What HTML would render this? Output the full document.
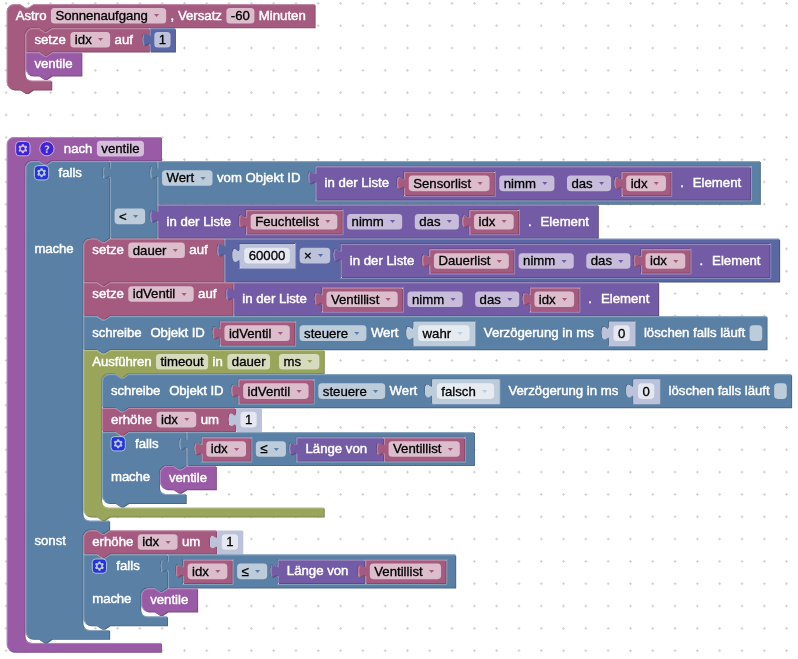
<!DOCTYPE html>
<html><head><meta charset="utf-8"><title>Blockly</title>
<style>
html,body{margin:0;padding:0;background:#fff;}
body{width:798px;height:659px;overflow:hidden;}
svg{display:block;}
.bt{font-family:"Liberation Sans",Arial,sans-serif;font-size:14.81px;fill:#fff;stroke:#fff;stroke-width:0.5px;}
.et{font-family:"Liberation Sans",Arial,sans-serif;font-size:14.81px;fill:#000;stroke:#000;stroke-width:0.35px;}
.ar{font-family:"DejaVu Sans",sans-serif;}
</style>
</head><body>
<svg id="root" width="798" height="659" viewBox="0 0 798 659"><defs><pattern id="grid" patternUnits="userSpaceOnUse" width="22.3" height="22.32" x="17.23" y="14.55"><line stroke="#ccc" stroke-width="1" x1="9.81" y1="11.14" x2="12.48" y2="11.14"></line><line stroke="#ccc" stroke-width="1" x1="11.14" y1="9.81" x2="11.14" y2="12.48"></line></pattern><filter id="soft" x="0" y="0" width="798" height="659" filterUnits="userSpaceOnUse" color-interpolation-filters="sRGB"><feGaussianBlur stdDeviation="0.35"></feGaussianBlur></filter></defs><rect x="0" y="0" width="798" height="659" fill="#fff"></rect><rect x="0" y="0" width="798" height="659" fill="url(#grid)"></rect><g filter="url(#soft)"><g transform="translate(0,0) scale(0.8915)"><g transform="translate(7.6,4.77)"><path fill="#844966" transform="translate(1,1)" d="m 0,8 A 8,8 0 0,1 8,0 H 15 l 6,4 3,0 6,-4 H 50 H 345.3975 v 26 H 50 l -6,4 -3,0 -6,-4 h -7 a 8,8 0 0,0 -8,8 v 43.7 a 8,8 0 0,0 8,8 H 50 v 10 H 29.5 l -6,4 -3,0 -6,-4 H 8 a 8,8 0 0,1 -8,-8 z "></path><path fill="#a55b80" d="m 0,8 A 8,8 0 0,1 8,0 H 15 l 6,4 3,0 6,-4 H 50 H 345.3975 v 26 H 50 l -6,4 -3,0 -6,-4 h -7 a 8,8 0 0,0 -8,8 v 43.7 a 8,8 0 0,0 8,8 H 50 v 10 H 29.5 l -6,4 -3,0 -6,-4 H 8 a 8,8 0 0,1 -8,-8 z "></path><path fill="none" stroke="#c08ca6" stroke-width="1" stroke-linecap="round" d="m 0.5,7.5 A 7.5,7.5 0 0,1 8,0.5 H 15 l 6,4 3,0 6,-4 H 49.5 M 49.5,0.5 H 344.8975 M 49.5,26.5 M 21.989592359914347,83.71040764008566 a 8.5,8.5 0 0,0 6.0104076400856545,2.4895923599143455 H 49.5 M 2.6966991411008934,93.00330085889911 A 7.5,7.5 0 0,1 0.5,87.7 V 8 "></path><g><g transform="translate(10,5)"><text class="bt" y="12.3">Astro</text></g><g transform="translate(54.55,5)"><rect rx="4" ry="4" x="-5" y="-0.85" height="17.5" width="129.23" fill="#fff" fill-opacity="0.6"></rect><text class="et" y="12.85" textLength="103.62" lengthAdjust="spacing">Sonnenaufgang</text><text class="ar" font-size="10" transform="translate(113.48,7.9) scale(1.15,0.67)" x="-2.47" y="2.65" fill="#a55b80">▾</text></g><g transform="translate(183.77,5)"><text class="bt" y="12.3">, Versatz</text></g><g transform="translate(251.35,5)"><rect rx="4" ry="4" x="-5" y="-0.85" height="17.5" width="31.39" fill="#fff" fill-opacity="0.6"></rect><text class="et" y="12.85">-60</text></g><g transform="translate(282.74,5)"><text class="bt" y="12.3">Minuten</text></g></g><g transform="translate(21,27)"><path fill="#844966" transform="translate(1,1)" d="m 0,8 A 8,8 0 0,1 8,0 H 15 l 6,4 3,0 6,-4 H 138.485 v 5 c 0,10 -8,-8 -8,7.5 s 8,-2.5 8,7.5 v 6 H 29.5 l -6,4 -3,0 -6,-4 H 0 z "></path><path fill="#a55b80" d="m 0,8 A 8,8 0 0,1 8,0 H 15 l 6,4 3,0 6,-4 H 138.485 v 5 c 0,10 -8,-8 -8,7.5 s 8,-2.5 8,7.5 v 6 H 29.5 l -6,4 -3,0 -6,-4 H 0 z "></path><path fill="none" stroke="#c08ca6" stroke-width="1" stroke-linecap="round" d="m 0.5,7.5 A 7.5,7.5 0 0,1 8,0.5 H 15 l 6,4 3,0 6,-4 H 137.985 M 137.985,0.5 M 133.485,19.3 l 3.68,-2.1 M 0.5,25.5 V 8 "></path><g><g transform="translate(10,5)"><text class="bt" y="12.3">setze</text></g><g transform="translate(55.38,5)"><rect rx="4" ry="4" x="-5" y="-0.85" height="17.5" width="44.53" fill="#fff" fill-opacity="0.6"></rect><text class="et" y="12.85">idx</text><text class="ar" font-size="10" transform="translate(28.78,7.9) scale(1.15,0.67)" x="-2.47" y="2.65" fill="#a55b80">▾</text></g><g transform="translate(99.91,5)"><text class="bt" y="12.3">auf</text></g></g><g transform="translate(139.49,0)"><path fill="#495284" transform="translate(1,1)" d="m 0,0 H 28.234375 v 26 H 0 V 20 c 0,-10 -8,8 -8,-7.5 s 8,2.5 8,-7.5 z "></path><path fill="#5b67a5" d="m 0,0 H 28.234375 v 26 H 0 V 20 c 0,-10 -8,8 -8,-7.5 s 8,2.5 8,-7.5 z "></path><path fill="none" stroke="#8c95c0" stroke-width="1" stroke-linecap="round" d="m 0.5,0.5 H 27.734375 M 27.734375,0.5 M 0.5,25.5 V 18.5 m -7.36,-0.5 q -1.52,-5.5 0,-11 m 7.36,1 V 0.5 H 1 "></path><g><g transform="translate(10,5)"><rect rx="4" ry="4" x="-5" y="-0.85" height="17.5" width="18.23" fill="#fff" fill-opacity="0.6"></rect><text class="et" y="12.85">1</text></g></g></g><g transform="translate(0,27)"><path fill="#7a4984" transform="translate(1,1)" d="m 0,0 H 15 l 6,4 3,0 6,-4 H 62.78125 v 26 H 29.5 l -6,4 -3,0 -6,-4 H 8 a 8,8 0 0,1 -8,-8 z "></path><path fill="#995ba5" d="m 0,0 H 15 l 6,4 3,0 6,-4 H 62.78125 v 26 H 29.5 l -6,4 -3,0 -6,-4 H 8 a 8,8 0 0,1 -8,-8 z "></path><path fill="none" stroke="#b88cc0" stroke-width="1" stroke-linecap="round" d="m 0.5,0.5 H 15 l 6,4 3,0 6,-4 H 62.28125 M 62.28125,0.5 M 2.6966991411008934,23.303300858899107 A 7.5,7.5 0 0,1 0.5,18 V 0.5 "></path><g><g transform="translate(10,5)"><text class="bt" y="12.3">ventile</text></g></g></g></g></g><g transform="translate(7.6,153.8)"><path fill="#7a4984" transform="translate(1,1)" d="m 0,8 A 8,8 0 0,1 8,0 H 172.985 v 26 H 50 l -6,4 -3,0 -6,-4 h -7 a 8,8 0 0,0 -8,8 v 525.4000000000001 a 8,8 0 0,0 8,8 H 172.985 v 10 H 8 a 8,8 0 0,1 -8,-8 z "></path><path fill="#995ba5" d="m 0,8 A 8,8 0 0,1 8,0 H 172.985 v 26 H 50 l -6,4 -3,0 -6,-4 h -7 a 8,8 0 0,0 -8,8 v 525.4000000000001 a 8,8 0 0,0 8,8 H 172.985 v 10 H 8 a 8,8 0 0,1 -8,-8 z "></path><path fill="none" stroke="#b88cc0" stroke-width="1" stroke-linecap="round" d="m 0.5,7.5 A 7.5,7.5 0 0,1 8,0.5 H 172.485 M 172.485,0.5 M 172.485,26.5 M 21.989592359914347,565.4104076400857 a 8.5,8.5 0 0,0 6.0104076400856545,2.4895923599143455 H 172.485 M 2.6966991411008934,574.7033008588992 A 7.5,7.5 0 0,1 0.5,569.4000000000001 V 8 "></path><g><g transform="translate(64,5)"><text class="bt" y="12.3">nach</text></g><g transform="translate(106.09,5)"><rect rx="4" ry="4" x="-5" y="-0.85" height="17.5" width="52.78" fill="#fff" fill-opacity="0.6"></rect><text class="et" y="12.85">ventile</text></g><g transform="translate(158.88,5)"></g></g><g transform="translate(10,5)" opacity="0.6"><rect rx="4" ry="4" height="16" width="16" fill="#00f" stroke="#fff" stroke-width="1"></rect><path fill="#fff" d="m4.203,7.296 0,1.368 -0.92,0.677 -0.11,0.41 0.9,1.559 0.41,0.11 1.043,-0.457 1.187,0.683 0.127,1.134 0.3,0.3 1.8,0 0.3,-0.299 0.127,-1.138 1.185,-0.682 1.046,0.458 0.409,-0.11 0.9,-1.559 -0.11,-0.41 -0.92,-0.677 0,-1.366 0.92,-0.677 0.11,-0.41 -0.9,-1.559 -0.409,-0.109 -1.046,0.458 -1.185,-0.682 -0.127,-1.138 -0.3,-0.299 -1.8,0 -0.3,0.3 -0.126,1.135 -1.187,0.682 -1.043,-0.457 -0.41,0.11 -0.899,1.559 0.108,0.409z"></path><circle r="2.7" cx="8" cy="8" fill="#00f" stroke="#fff" stroke-width="1"></circle></g><g transform="translate(37,5)" opacity="0.6"><circle r="8" cx="8" cy="8" fill="#00f" stroke="#fff" stroke-width="1"></circle><path fill="#fff" d="m6.8,10h2c0.003,-0.617 0.271,-0.962 0.633,-1.266 2.875,-2.405 0.607,-5.534 -3.765,-3.874v1.7c3.12,-1.657 3.698,0.118 2.336,1.25 -1.201,0.998 -1.201,1.528 -1.204,2.19z"></path><rect fill="#fff" x="6.8" y="10.78" height="2" width="2"></rect></g><g transform="translate(21,27)"><path fill="#496684" transform="translate(1,1)" d="m 0,8 A 8,8 0 0,1 8,0 H 15 l 6,4 3,0 6,-4 H 93.921875 v 5 c 0,10 -8,-8 -8,7.5 s 8,-2.5 8,7.5 v 66 H 93.921875 l -6,4 -3,0 -6,-4 h -7 a 8,8 0 0,0 -8,8 v 301.2 a 8,8 0 0,0 8,8 H 93.921875 v 10 H 93.921875 l -6,4 -3,0 -6,-4 h -7 a 8,8 0 0,0 -8,8 v 96.75 a 8,8 0 0,0 8,8 H 93.921875 v 10 H 29.5 l -6,4 -3,0 -6,-4 H 8 a 8,8 0 0,1 -8,-8 z "></path><path fill="#5b80a5" d="m 0,8 A 8,8 0 0,1 8,0 H 15 l 6,4 3,0 6,-4 H 93.921875 v 5 c 0,10 -8,-8 -8,7.5 s 8,-2.5 8,7.5 v 66 H 93.921875 l -6,4 -3,0 -6,-4 h -7 a 8,8 0 0,0 -8,8 v 301.2 a 8,8 0 0,0 8,8 H 93.921875 v 10 H 93.921875 l -6,4 -3,0 -6,-4 h -7 a 8,8 0 0,0 -8,8 v 96.75 a 8,8 0 0,0 8,8 H 93.921875 v 10 H 29.5 l -6,4 -3,0 -6,-4 H 8 a 8,8 0 0,1 -8,-8 z "></path><path fill="none" stroke="#8ca6c0" stroke-width="1" stroke-linecap="round" d="m 0.5,7.5 A 7.5,7.5 0 0,1 8,0.5 H 15 l 6,4 3,0 6,-4 H 93.421875 M 93.421875,0.5 M 88.921875,19.3 l 3.68,-2.1 M 93.421875,86.5 M 65.91146735991434,401.21040764008563 a 8.5,8.5 0 0,0 6.0104076400856545,2.4895923599143455 H 93.421875 M 93.421875,413.7 M 65.91146735991434,523.9604076400857 a 8.5,8.5 0 0,0 6.0104076400856545,2.4895923599143455 H 93.421875 M 2.6966991411008934,533.2533008588991 A 7.5,7.5 0 0,1 0.5,527.95 V 8 "></path><g><g transform="translate(37,5)"><text class="bt" y="12.3">falls</text></g><g transform="translate(10,91)"><text class="bt" y="12.3" textLength="43.92" lengthAdjust="spacing">mache</text></g><g transform="translate(10,418.2)"><text class="bt" y="12.3">sonst</text></g></g><g transform="translate(10,5)" opacity="0.6"><rect rx="4" ry="4" height="16" width="16" fill="#00f" stroke="#fff" stroke-width="1"></rect><path fill="#fff" d="m4.203,7.296 0,1.368 -0.92,0.677 -0.11,0.41 0.9,1.559 0.41,0.11 1.043,-0.457 1.187,0.683 0.127,1.134 0.3,0.3 1.8,0 0.3,-0.299 0.127,-1.138 1.185,-0.682 1.046,0.458 0.409,-0.11 0.9,-1.559 -0.11,-0.41 -0.92,-0.677 0,-1.366 0.92,-0.677 0.11,-0.41 -0.9,-1.559 -0.409,-0.109 -1.046,0.458 -1.185,-0.682 -0.127,-1.138 -0.3,-0.299 -1.8,0 -0.3,0.3 -0.126,1.135 -1.187,0.682 -1.043,-0.457 -0.41,0.11 -0.899,1.559 0.108,0.409z"></path><circle r="2.7" cx="8" cy="8" fill="#00f" stroke="#fff" stroke-width="1"></circle></g><g transform="translate(94.92,0)"><path fill="#496684" transform="translate(1,1)" d="m 0,0 H 52.26625 v 5 c 0,10 -8,-8 -8,7.5 s 8,-2.5 8,7.5 v 29 v 5 c 0,10 -8,-8 -8,7.5 s 8,-2.5 8,7.5 v 17 H 0 V 20 c 0,-10 -8,8 -8,-7.5 s 8,2.5 8,-7.5 z "></path><path fill="#5b80a5" d="m 0,0 H 52.26625 v 5 c 0,10 -8,-8 -8,7.5 s 8,-2.5 8,7.5 v 29 v 5 c 0,10 -8,-8 -8,7.5 s 8,-2.5 8,7.5 v 17 H 0 V 20 c 0,-10 -8,8 -8,-7.5 s 8,2.5 8,-7.5 z "></path><path fill="none" stroke="#8ca6c0" stroke-width="1" stroke-linecap="round" d="m 0.5,0.5 H 51.76625 M 51.76625,0.5 M 47.26625,19.3 l 3.68,-2.1 M 51.76625,49.5 M 47.26625,68.3 l 3.68,-2.1 M 0.5,85.5 V 18.5 m -7.36,-0.5 q -1.52,-5.5 0,-11 m 7.36,1 V 0.5 H 1 "></path><g><g transform="translate(10,54)"><rect rx="4" ry="4" x="-5" y="-0.85" height="17.5" width="34.27" fill="#fff" fill-opacity="0.6"></rect><text class="et" y="12.85">&lt;</text><text class="ar" font-size="10" transform="translate(18.52,7.9) scale(1.15,0.67)" x="-2.47" y="2.65" fill="#5b80a5">▾</text></g></g><g transform="translate(53.27,0)"><path fill="#496684" transform="translate(1,1)" d="m 0,0 H 20 H 675.6131250000001 v 48 H 0 V 20 c 0,-10 -8,8 -8,-7.5 s 8,2.5 8,-7.5 z M 665.6131250000001,5 h -489.28437500000007 v 5 c 0,10 -8,-8 -8,7.5 s 8,-2.5 8,7.5 v 19 h 489.28437500000007 z"></path><path fill="#5b80a5" d="m 0,0 H 20 H 675.6131250000001 v 48 H 0 V 20 c 0,-10 -8,8 -8,-7.5 s 8,2.5 8,-7.5 z M 665.6131250000001,5 h -489.28437500000007 v 5 c 0,10 -8,-8 -8,7.5 s 8,-2.5 8,7.5 v 19 h 489.28437500000007 z"></path><path fill="none" stroke="#8ca6c0" stroke-width="1" stroke-linecap="round" d="m 0.5,0.5 H 19.5 M 19.5,0.5 H 675.1131250000001 M 0.5,47.5 V 18.5 m -7.36,-0.5 q -1.52,-5.5 0,-11 m 7.36,1 V 0.5 H 1 M 666.1131250000001,5.5 v 39 h -489.28437500000007 M 171.22875000000002,24.3 l 3.68,-2.1"></path><g><g transform="translate(10,11)"><rect rx="4" ry="4" x="-5" y="-0.85" height="17.5" width="56.58" fill="#fff" fill-opacity="0.6"></rect><text class="et" y="12.85">Wert</text><text class="ar" font-size="10" transform="translate(40.83,7.9) scale(1.15,0.67)" x="-2.47" y="2.65" fill="#5b80a5">▾</text></g><g transform="translate(66.58,11)"><text class="bt" y="12.3">vom Objekt ID</text></g></g><g transform="translate(177.33,6)"><path fill="#5d4984" transform="translate(1,1)" d="m 0,0 H 20 H 487.28437500000007 v 37 H 0 V 20 c 0,-10 -8,8 -8,-7.5 s 8,2.5 8,-7.5 z M 200.969375,5 h -102.57875 v 5 c 0,10 -8,-8 -8,7.5 s 8,-2.5 8,7.5 v 8 h 102.57875 z M 398.86250000000007,5 h -56.531875 v 5 c 0,10 -8,-8 -8,7.5 s 8,-2.5 8,7.5 v 8 h 56.531875 z"></path><path fill="#745ba5" d="m 0,0 H 20 H 487.28437500000007 v 37 H 0 V 20 c 0,-10 -8,8 -8,-7.5 s 8,2.5 8,-7.5 z M 200.969375,5 h -102.57875 v 5 c 0,10 -8,-8 -8,7.5 s 8,-2.5 8,7.5 v 8 h 102.57875 z M 398.86250000000007,5 h -56.531875 v 5 c 0,10 -8,-8 -8,7.5 s 8,-2.5 8,7.5 v 8 h 56.531875 z"></path><path fill="none" stroke="#9e8cc0" stroke-width="1" stroke-linecap="round" d="m 0.5,0.5 H 19.5 M 19.5,0.5 H 486.78437500000007 M 0.5,36.5 V 18.5 m -7.36,-0.5 q -1.52,-5.5 0,-11 m 7.36,1 V 0.5 H 1 M 201.469375,5.5 v 28 h -102.57875 M 93.29062500000002,24.3 l 3.68,-2.1 M 399.36250000000007,5.5 v 28 h -56.531875 M 337.23062500000003,24.3 l 3.68,-2.1"></path><g><g transform="translate(10,11)"><text class="bt" y="12.3">in der Liste</text></g><g transform="translate(210.97,11)"><rect rx="4" ry="4" x="-5" y="-0.85" height="17.5" width="61.78" fill="#fff" fill-opacity="0.6"></rect><text class="et" y="12.85">nimm</text><text class="ar" font-size="10" transform="translate(46.03,7.9) scale(1.15,0.67)" x="-2.47" y="2.65" fill="#745ba5">▾</text></g><g transform="translate(272.75,11)"></g><g transform="translate(286.86,11)"><rect rx="4" ry="4" x="-5" y="-0.85" height="17.5" width="49.47" fill="#fff" fill-opacity="0.6"></rect><text class="et" y="12.85">das</text><text class="ar" font-size="10" transform="translate(33.72,7.9) scale(1.15,0.67)" x="-2.47" y="2.65" fill="#745ba5">▾</text></g><g transform="translate(408.86,11)"><text class="bt" y="12.3">.</text></g><g transform="translate(422.99,11)"><text class="bt" y="12.3">Element</text></g></g><g transform="translate(99.39,6)"><path fill="#844966" transform="translate(1,1)" d="m 0,0 H 100.57875 v 26 H 0 V 20 c 0,-10 -8,8 -8,-7.5 s 8,2.5 8,-7.5 z "></path><path fill="#a55b80" d="m 0,0 H 100.57875 v 26 H 0 V 20 c 0,-10 -8,8 -8,-7.5 s 8,2.5 8,-7.5 z "></path><path fill="none" stroke="#c08ca6" stroke-width="1" stroke-linecap="round" d="m 0.5,0.5 H 100.07875 M 100.07875,0.5 M 0.5,25.5 V 18.5 m -7.36,-0.5 q -1.52,-5.5 0,-11 m 7.36,1 V 0.5 H 1 "></path><g><g transform="translate(10,5)"><rect rx="4" ry="4" x="-5" y="-0.85" height="17.5" width="90.58" fill="#fff" fill-opacity="0.6"></rect><text class="et" y="12.85">Sensorlist</text><text class="ar" font-size="10" transform="translate(74.83,7.9) scale(1.15,0.67)" x="-2.47" y="2.65" fill="#a55b80">▾</text></g></g></g><g transform="translate(343.33,6)"><path fill="#844966" transform="translate(1,1)" d="m 0,0 H 54.531875 v 26 H 0 V 20 c 0,-10 -8,8 -8,-7.5 s 8,2.5 8,-7.5 z "></path><path fill="#a55b80" d="m 0,0 H 54.531875 v 26 H 0 V 20 c 0,-10 -8,8 -8,-7.5 s 8,2.5 8,-7.5 z "></path><path fill="none" stroke="#c08ca6" stroke-width="1" stroke-linecap="round" d="m 0.5,0.5 H 54.031875 M 54.031875,0.5 M 0.5,25.5 V 18.5 m -7.36,-0.5 q -1.52,-5.5 0,-11 m 7.36,1 V 0.5 H 1 "></path><g><g transform="translate(10,5)"><rect rx="4" ry="4" x="-5" y="-0.85" height="17.5" width="44.53" fill="#fff" fill-opacity="0.6"></rect><text class="et" y="12.85">idx</text><text class="ar" font-size="10" transform="translate(28.78,7.9) scale(1.15,0.67)" x="-2.47" y="2.65" fill="#a55b80">▾</text></g></g></g></g></g><g transform="translate(53.27,49)"><path fill="#5d4984" transform="translate(1,1)" d="m 0,0 H 20 H 493.87812500000007 v 37 H 0 V 20 c 0,-10 -8,8 -8,-7.5 s 8,2.5 8,-7.5 z M 207.563125,5 h -109.1725 v 5 c 0,10 -8,-8 -8,7.5 s 8,-2.5 8,7.5 v 8 h 109.1725 z M 405.45625000000007,5 h -56.531875 v 5 c 0,10 -8,-8 -8,7.5 s 8,-2.5 8,7.5 v 8 h 56.531875 z"></path><path fill="#745ba5" d="m 0,0 H 20 H 493.87812500000007 v 37 H 0 V 20 c 0,-10 -8,8 -8,-7.5 s 8,2.5 8,-7.5 z M 207.563125,5 h -109.1725 v 5 c 0,10 -8,-8 -8,7.5 s 8,-2.5 8,7.5 v 8 h 109.1725 z M 405.45625000000007,5 h -56.531875 v 5 c 0,10 -8,-8 -8,7.5 s 8,-2.5 8,7.5 v 8 h 56.531875 z"></path><path fill="none" stroke="#9e8cc0" stroke-width="1" stroke-linecap="round" d="m 0.5,0.5 H 19.5 M 19.5,0.5 H 493.37812500000007 M 0.5,36.5 V 18.5 m -7.36,-0.5 q -1.52,-5.5 0,-11 m 7.36,1 V 0.5 H 1 M 208.063125,5.5 v 28 h -109.1725 M 93.29062500000002,24.3 l 3.68,-2.1 M 405.95625000000007,5.5 v 28 h -56.531875 M 343.82437500000003,24.3 l 3.68,-2.1"></path><g><g transform="translate(10,11)"><text class="bt" y="12.3">in der Liste</text></g><g transform="translate(217.56,11)"><rect rx="4" ry="4" x="-5" y="-0.85" height="17.5" width="61.78" fill="#fff" fill-opacity="0.6"></rect><text class="et" y="12.85">nimm</text><text class="ar" font-size="10" transform="translate(46.03,7.9) scale(1.15,0.67)" x="-2.47" y="2.65" fill="#745ba5">▾</text></g><g transform="translate(279.35,11)"></g><g transform="translate(293.46,11)"><rect rx="4" ry="4" x="-5" y="-0.85" height="17.5" width="49.47" fill="#fff" fill-opacity="0.6"></rect><text class="et" y="12.85">das</text><text class="ar" font-size="10" transform="translate(33.72,7.9) scale(1.15,0.67)" x="-2.47" y="2.65" fill="#745ba5">▾</text></g><g transform="translate(415.46,11)"><text class="bt" y="12.3">.</text></g><g transform="translate(429.58,11)"><text class="bt" y="12.3">Element</text></g></g><g transform="translate(99.39,6)"><path fill="#844966" transform="translate(1,1)" d="m 0,0 H 107.1725 v 26 H 0 V 20 c 0,-10 -8,8 -8,-7.5 s 8,2.5 8,-7.5 z "></path><path fill="#a55b80" d="m 0,0 H 107.1725 v 26 H 0 V 20 c 0,-10 -8,8 -8,-7.5 s 8,2.5 8,-7.5 z "></path><path fill="none" stroke="#c08ca6" stroke-width="1" stroke-linecap="round" d="m 0.5,0.5 H 106.6725 M 106.6725,0.5 M 0.5,25.5 V 18.5 m -7.36,-0.5 q -1.52,-5.5 0,-11 m 7.36,1 V 0.5 H 1 "></path><g><g transform="translate(10,5)"><rect rx="4" ry="4" x="-5" y="-0.85" height="17.5" width="97.17" fill="#fff" fill-opacity="0.6"></rect><text class="et" y="12.85">Feuchtelist</text><text class="ar" font-size="10" transform="translate(81.42,7.9) scale(1.15,0.67)" x="-2.47" y="2.65" fill="#a55b80">▾</text></g></g></g><g transform="translate(349.92,6)"><path fill="#844966" transform="translate(1,1)" d="m 0,0 H 54.531875 v 26 H 0 V 20 c 0,-10 -8,8 -8,-7.5 s 8,2.5 8,-7.5 z "></path><path fill="#a55b80" d="m 0,0 H 54.531875 v 26 H 0 V 20 c 0,-10 -8,8 -8,-7.5 s 8,2.5 8,-7.5 z "></path><path fill="none" stroke="#c08ca6" stroke-width="1" stroke-linecap="round" d="m 0.5,0.5 H 54.031875 M 54.031875,0.5 M 0.5,25.5 V 18.5 m -7.36,-0.5 q -1.52,-5.5 0,-11 m 7.36,1 V 0.5 H 1 "></path><g><g transform="translate(10,5)"><rect rx="4" ry="4" x="-5" y="-0.85" height="17.5" width="44.53" fill="#fff" fill-opacity="0.6"></rect><text class="et" y="12.85">idx</text><text class="ar" font-size="10" transform="translate(28.78,7.9) scale(1.15,0.67)" x="-2.47" y="2.65" fill="#a55b80">▾</text></g></g></g></g></g><g transform="translate(64.92,87)"><path fill="#844966" transform="translate(1,1)" d="m 0,8 A 8,8 0 0,1 8,0 H 15 l 6,4 3,0 6,-4 H 157.4225 v 5 c 0,10 -8,-8 -8,7.5 s 8,-2.5 8,7.5 v 28 H 29.5 l -6,4 -3,0 -6,-4 H 0 z "></path><path fill="#a55b80" d="m 0,8 A 8,8 0 0,1 8,0 H 15 l 6,4 3,0 6,-4 H 157.4225 v 5 c 0,10 -8,-8 -8,7.5 s 8,-2.5 8,7.5 v 28 H 29.5 l -6,4 -3,0 -6,-4 H 0 z "></path><path fill="none" stroke="#c08ca6" stroke-width="1" stroke-linecap="round" d="m 0.5,7.5 A 7.5,7.5 0 0,1 8,0.5 H 15 l 6,4 3,0 6,-4 H 156.9225 M 156.9225,0.5 M 152.4225,19.3 l 3.68,-2.1 M 0.5,47.5 V 8 "></path><g><g transform="translate(10,5)"><text class="bt" y="12.3">setze</text></g><g transform="translate(55.38,5)"><rect rx="4" ry="4" x="-5" y="-0.85" height="17.5" width="63.47" fill="#fff" fill-opacity="0.6"></rect><text class="et" y="12.85">dauer</text><text class="ar" font-size="10" transform="translate(47.72,7.9) scale(1.15,0.67)" x="-2.47" y="2.65" fill="#a55b80">▾</text></g><g transform="translate(118.84,5)"><text class="bt" y="12.3">auf</text></g></g><g transform="translate(158.42,0)"><path fill="#495284" transform="translate(1,1)" d="m 0,0 H 20 H 622.1287500000001 v 48 H 0 V 20 c 0,-10 -8,8 -8,-7.5 s 8,2.5 8,-7.5 z M 79.15625,5 h -63.15625 v 5 c 0,10 -8,-8 -8,7.5 s 8,-2.5 8,7.5 v 8 h 63.15625 z M 612.1287500000001,5 h -482.70625000000007 v 5 c 0,10 -8,-8 -8,7.5 s 8,-2.5 8,7.5 v 19 h 482.70625000000007 z"></path><path fill="#5b67a5" d="m 0,0 H 20 H 622.1287500000001 v 48 H 0 V 20 c 0,-10 -8,8 -8,-7.5 s 8,2.5 8,-7.5 z M 79.15625,5 h -63.15625 v 5 c 0,10 -8,-8 -8,7.5 s 8,-2.5 8,7.5 v 8 h 63.15625 z M 612.1287500000001,5 h -482.70625000000007 v 5 c 0,10 -8,-8 -8,7.5 s 8,-2.5 8,7.5 v 19 h 482.70625000000007 z"></path><path fill="none" stroke="#8c95c0" stroke-width="1" stroke-linecap="round" d="m 0.5,0.5 H 19.5 M 19.5,0.5 H 621.6287500000001 M 0.5,47.5 V 18.5 m -7.36,-0.5 q -1.52,-5.5 0,-11 m 7.36,1 V 0.5 H 1 M 79.65625,5.5 v 28 h -63.15625 M 10.9,24.3 l 3.68,-2.1 M 612.6287500000001,5.5 v 39 h -482.70625000000007 M 124.32250000000002,24.3 l 3.68,-2.1"></path><g><g transform="translate(89.16,11)"><rect rx="4" ry="4" x="-5" y="-0.85" height="17.5" width="34.27" fill="#fff" fill-opacity="0.6"></rect><text class="et" y="12.85">×</text><text class="ar" font-size="10" transform="translate(18.52,7.9) scale(1.15,0.67)" x="-2.47" y="2.65" fill="#5b67a5">▾</text></g></g><g transform="translate(17,6)"><path fill="#bdc2db" transform="translate(1,1)" d="m 0,0 H 61.15625 v 26 H 0 V 20 c 0,-10 -8,8 -8,-7.5 s 8,2.5 8,-7.5 z "></path><path fill="#bdc2db" d="m 0,0 H 61.15625 v 26 H 0 V 20 c 0,-10 -8,8 -8,-7.5 s 8,2.5 8,-7.5 z "></path><path fill="none" stroke="#8c95c0" stroke-width="1" stroke-linecap="round" display="none" d="m 0.5,0.5 H 60.65625 M 60.65625,0.5 M 0.5,25.5 V 18.5 m -7.36,-0.5 q -1.52,-5.5 0,-11 m 7.36,1 V 0.5 H 1 "></path><g><g transform="translate(10,5)"><rect rx="4" ry="4" x="-5" y="-0.85" height="17.5" width="51.16" fill="#fff" fill-opacity="0.6"></rect><text class="et" y="12.85">60000</text></g></g></g><g transform="translate(130.42,6)"><path fill="#5d4984" transform="translate(1,1)" d="m 0,0 H 20 H 480.70625000000007 v 37 H 0 V 20 c 0,-10 -8,8 -8,-7.5 s 8,2.5 8,-7.5 z M 194.39125,5 h -96.000625 v 5 c 0,10 -8,-8 -8,7.5 s 8,-2.5 8,7.5 v 8 h 96.000625 z M 392.28437500000007,5 h -56.531875 v 5 c 0,10 -8,-8 -8,7.5 s 8,-2.5 8,7.5 v 8 h 56.531875 z"></path><path fill="#745ba5" d="m 0,0 H 20 H 480.70625000000007 v 37 H 0 V 20 c 0,-10 -8,8 -8,-7.5 s 8,2.5 8,-7.5 z M 194.39125,5 h -96.000625 v 5 c 0,10 -8,-8 -8,7.5 s 8,-2.5 8,7.5 v 8 h 96.000625 z M 392.28437500000007,5 h -56.531875 v 5 c 0,10 -8,-8 -8,7.5 s 8,-2.5 8,7.5 v 8 h 56.531875 z"></path><path fill="none" stroke="#9e8cc0" stroke-width="1" stroke-linecap="round" d="m 0.5,0.5 H 19.5 M 19.5,0.5 H 480.20625000000007 M 0.5,36.5 V 18.5 m -7.36,-0.5 q -1.52,-5.5 0,-11 m 7.36,1 V 0.5 H 1 M 194.89125,5.5 v 28 h -96.000625 M 93.29062500000002,24.3 l 3.68,-2.1 M 392.78437500000007,5.5 v 28 h -56.531875 M 330.65250000000003,24.3 l 3.68,-2.1"></path><g><g transform="translate(10,11)"><text class="bt" y="12.3">in der Liste</text></g><g transform="translate(204.39,11)"><rect rx="4" ry="4" x="-5" y="-0.85" height="17.5" width="61.78" fill="#fff" fill-opacity="0.6"></rect><text class="et" y="12.85">nimm</text><text class="ar" font-size="10" transform="translate(46.03,7.9) scale(1.15,0.67)" x="-2.47" y="2.65" fill="#745ba5">▾</text></g><g transform="translate(266.17,11)"></g><g transform="translate(280.28,11)"><rect rx="4" ry="4" x="-5" y="-0.85" height="17.5" width="49.47" fill="#fff" fill-opacity="0.6"></rect><text class="et" y="12.85">das</text><text class="ar" font-size="10" transform="translate(33.72,7.9) scale(1.15,0.67)" x="-2.47" y="2.65" fill="#745ba5">▾</text></g><g transform="translate(402.28,11)"><text class="bt" y="12.3">.</text></g><g transform="translate(416.41,11)"><text class="bt" y="12.3">Element</text></g></g><g transform="translate(99.39,6)"><path fill="#844966" transform="translate(1,1)" d="m 0,0 H 94.000625 v 26 H 0 V 20 c 0,-10 -8,8 -8,-7.5 s 8,2.5 8,-7.5 z "></path><path fill="#a55b80" d="m 0,0 H 94.000625 v 26 H 0 V 20 c 0,-10 -8,8 -8,-7.5 s 8,2.5 8,-7.5 z "></path><path fill="none" stroke="#c08ca6" stroke-width="1" stroke-linecap="round" d="m 0.5,0.5 H 93.500625 M 93.500625,0.5 M 0.5,25.5 V 18.5 m -7.36,-0.5 q -1.52,-5.5 0,-11 m 7.36,1 V 0.5 H 1 "></path><g><g transform="translate(10,5)"><rect rx="4" ry="4" x="-5" y="-0.85" height="17.5" width="84" fill="#fff" fill-opacity="0.6"></rect><text class="et" y="12.85">Dauerlist</text><text class="ar" font-size="10" transform="translate(68.25,7.9) scale(1.15,0.67)" x="-2.47" y="2.65" fill="#a55b80">▾</text></g></g></g><g transform="translate(336.75,6)"><path fill="#844966" transform="translate(1,1)" d="m 0,0 H 54.531875 v 26 H 0 V 20 c 0,-10 -8,8 -8,-7.5 s 8,2.5 8,-7.5 z "></path><path fill="#a55b80" d="m 0,0 H 54.531875 v 26 H 0 V 20 c 0,-10 -8,8 -8,-7.5 s 8,2.5 8,-7.5 z "></path><path fill="none" stroke="#c08ca6" stroke-width="1" stroke-linecap="round" d="m 0.5,0.5 H 54.031875 M 54.031875,0.5 M 0.5,25.5 V 18.5 m -7.36,-0.5 q -1.52,-5.5 0,-11 m 7.36,1 V 0.5 H 1 "></path><g><g transform="translate(10,5)"><rect rx="4" ry="4" x="-5" y="-0.85" height="17.5" width="44.53" fill="#fff" fill-opacity="0.6"></rect><text class="et" y="12.85">idx</text><text class="ar" font-size="10" transform="translate(28.78,7.9) scale(1.15,0.67)" x="-2.47" y="2.65" fill="#a55b80">▾</text></g></g></g></g></g><g transform="translate(0,49)"><path fill="#844966" transform="translate(1,1)" d="m 0,0 H 15 l 6,4 3,0 6,-4 H 167.281875 v 5 c 0,10 -8,-8 -8,7.5 s 8,-2.5 8,7.5 v 17 H 29.5 l -6,4 -3,0 -6,-4 H 0 z "></path><path fill="#a55b80" d="m 0,0 H 15 l 6,4 3,0 6,-4 H 167.281875 v 5 c 0,10 -8,-8 -8,7.5 s 8,-2.5 8,7.5 v 17 H 29.5 l -6,4 -3,0 -6,-4 H 0 z "></path><path fill="none" stroke="#c08ca6" stroke-width="1" stroke-linecap="round" d="m 0.5,0.5 H 15 l 6,4 3,0 6,-4 H 166.781875 M 166.781875,0.5 M 162.281875,19.3 l 3.68,-2.1 M 0.5,36.5 V 0.5 "></path><g><g transform="translate(10,5)"><text class="bt" y="12.3">setze</text></g><g transform="translate(55.38,5)"><rect rx="4" ry="4" x="-5" y="-0.85" height="17.5" width="73.33" fill="#fff" fill-opacity="0.6"></rect><text class="et" y="12.85">idVentil</text><text class="ar" font-size="10" transform="translate(57.58,7.9) scale(1.15,0.67)" x="-2.47" y="2.65" fill="#a55b80">▾</text></g><g transform="translate(128.7,5)"><text class="bt" y="12.3">auf</text></g></g><g transform="translate(168.28,0)"><path fill="#5d4984" transform="translate(1,1)" d="m 0,0 H 20 H 476.59687500000007 v 37 H 0 V 20 c 0,-10 -8,8 -8,-7.5 s 8,2.5 8,-7.5 z M 190.281875,5 h -91.89125 v 5 c 0,10 -8,-8 -8,7.5 s 8,-2.5 8,7.5 v 8 h 91.89125 z M 388.17500000000007,5 h -56.531875 v 5 c 0,10 -8,-8 -8,7.5 s 8,-2.5 8,7.5 v 8 h 56.531875 z"></path><path fill="#745ba5" d="m 0,0 H 20 H 476.59687500000007 v 37 H 0 V 20 c 0,-10 -8,8 -8,-7.5 s 8,2.5 8,-7.5 z M 190.281875,5 h -91.89125 v 5 c 0,10 -8,-8 -8,7.5 s 8,-2.5 8,7.5 v 8 h 91.89125 z M 388.17500000000007,5 h -56.531875 v 5 c 0,10 -8,-8 -8,7.5 s 8,-2.5 8,7.5 v 8 h 56.531875 z"></path><path fill="none" stroke="#9e8cc0" stroke-width="1" stroke-linecap="round" d="m 0.5,0.5 H 19.5 M 19.5,0.5 H 476.09687500000007 M 0.5,36.5 V 18.5 m -7.36,-0.5 q -1.52,-5.5 0,-11 m 7.36,1 V 0.5 H 1 M 190.781875,5.5 v 28 h -91.89125 M 93.29062500000002,24.3 l 3.68,-2.1 M 388.67500000000007,5.5 v 28 h -56.531875 M 326.54312500000003,24.3 l 3.68,-2.1"></path><g><g transform="translate(10,11)"><text class="bt" y="12.3">in der Liste</text></g><g transform="translate(200.28,11)"><rect rx="4" ry="4" x="-5" y="-0.85" height="17.5" width="61.78" fill="#fff" fill-opacity="0.6"></rect><text class="et" y="12.85">nimm</text><text class="ar" font-size="10" transform="translate(46.03,7.9) scale(1.15,0.67)" x="-2.47" y="2.65" fill="#745ba5">▾</text></g><g transform="translate(262.06,11)"></g><g transform="translate(276.17,11)"><rect rx="4" ry="4" x="-5" y="-0.85" height="17.5" width="49.47" fill="#fff" fill-opacity="0.6"></rect><text class="et" y="12.85">das</text><text class="ar" font-size="10" transform="translate(33.72,7.9) scale(1.15,0.67)" x="-2.47" y="2.65" fill="#745ba5">▾</text></g><g transform="translate(398.18,11)"><text class="bt" y="12.3">.</text></g><g transform="translate(412.3,11)"><text class="bt" y="12.3">Element</text></g></g><g transform="translate(99.39,6)"><path fill="#844966" transform="translate(1,1)" d="m 0,0 H 89.89125 v 26 H 0 V 20 c 0,-10 -8,8 -8,-7.5 s 8,2.5 8,-7.5 z "></path><path fill="#a55b80" d="m 0,0 H 89.89125 v 26 H 0 V 20 c 0,-10 -8,8 -8,-7.5 s 8,2.5 8,-7.5 z "></path><path fill="none" stroke="#c08ca6" stroke-width="1" stroke-linecap="round" d="m 0.5,0.5 H 89.39125 M 89.39125,0.5 M 0.5,25.5 V 18.5 m -7.36,-0.5 q -1.52,-5.5 0,-11 m 7.36,1 V 0.5 H 1 "></path><g><g transform="translate(10,5)"><rect rx="4" ry="4" x="-5" y="-0.85" height="17.5" width="79.89" fill="#fff" fill-opacity="0.6"></rect><text class="et" y="12.85">Ventillist</text><text class="ar" font-size="10" transform="translate(64.14,7.9) scale(1.15,0.67)" x="-2.47" y="2.65" fill="#a55b80">▾</text></g></g></g><g transform="translate(332.64,6)"><path fill="#844966" transform="translate(1,1)" d="m 0,0 H 54.531875 v 26 H 0 V 20 c 0,-10 -8,8 -8,-7.5 s 8,2.5 8,-7.5 z "></path><path fill="#a55b80" d="m 0,0 H 54.531875 v 26 H 0 V 20 c 0,-10 -8,8 -8,-7.5 s 8,2.5 8,-7.5 z "></path><path fill="none" stroke="#c08ca6" stroke-width="1" stroke-linecap="round" d="m 0.5,0.5 H 54.031875 M 54.031875,0.5 M 0.5,25.5 V 18.5 m -7.36,-0.5 q -1.52,-5.5 0,-11 m 7.36,1 V 0.5 H 1 "></path><g><g transform="translate(10,5)"><rect rx="4" ry="4" x="-5" y="-0.85" height="17.5" width="44.53" fill="#fff" fill-opacity="0.6"></rect><text class="et" y="12.85">idx</text><text class="ar" font-size="10" transform="translate(28.78,7.9) scale(1.15,0.67)" x="-2.47" y="2.65" fill="#a55b80">▾</text></g></g></g></g><g transform="translate(0,38)"><path fill="#496684" transform="translate(1,1)" d="m 0,0 H 15 l 6,4 3,0 6,-4 H 40 H 766.4150000000001 v 37 H 29.5 l -6,4 -3,0 -6,-4 H 0 z M 237.55374999999998,5 h -85.32875 v 5 c 0,10 -8,-8 -8,7.5 s 8,-2.5 8,7.5 v 8 h 85.32875 z M 439.18,5 h -69.688125 v 5 c 0,10 -8,-8 -8,7.5 s 8,-2.5 8,7.5 v 8 h 69.688125 z M 618.7893750000001,5 h -30.234375 v 5 c 0,10 -8,-8 -8,7.5 s 8,-2.5 8,7.5 v 8 h 30.234375 z"></path><path fill="#5b80a5" d="m 0,0 H 15 l 6,4 3,0 6,-4 H 40 H 766.4150000000001 v 37 H 29.5 l -6,4 -3,0 -6,-4 H 0 z M 237.55374999999998,5 h -85.32875 v 5 c 0,10 -8,-8 -8,7.5 s 8,-2.5 8,7.5 v 8 h 85.32875 z M 439.18,5 h -69.688125 v 5 c 0,10 -8,-8 -8,7.5 s 8,-2.5 8,7.5 v 8 h 69.688125 z M 618.7893750000001,5 h -30.234375 v 5 c 0,10 -8,-8 -8,7.5 s 8,-2.5 8,7.5 v 8 h 30.234375 z"></path><path fill="none" stroke="#8ca6c0" stroke-width="1" stroke-linecap="round" d="m 0.5,0.5 H 15 l 6,4 3,0 6,-4 H 39.5 M 39.5,0.5 H 765.9150000000001 M 0.5,36.5 V 0.5 M 238.05374999999998,5.5 v 28 h -85.32875 M 147.12499999999997,24.3 l 3.68,-2.1 M 439.68,5.5 v 28 h -69.688125 M 364.39187499999997,24.3 l 3.68,-2.1 M 619.2893750000001,5.5 v 28 h -30.234375 M 583.455,24.3 l 3.68,-2.1"></path><g><g transform="translate(10,11)"><text class="bt" y="12.3" textLength="55.24" lengthAdjust="spacing">schreibe</text></g><g transform="translate(75.24,11)"><text class="bt" y="12.3" textLength="60.99" lengthAdjust="spacing">Objekt ID</text></g><g transform="translate(247.55,11)"><rect rx="4" ry="4" x="-5" y="-0.85" height="17.5" width="74.97" fill="#fff" fill-opacity="0.6"></rect><text class="et" y="12.85">steuere</text><text class="ar" font-size="10" transform="translate(59.22,7.9) scale(1.15,0.67)" x="-2.47" y="2.65" fill="#5b80a5">▾</text></g><g transform="translate(322.52,11)"><text class="bt" y="12.3">Wert</text></g><g transform="translate(449.18,11)"><text class="bt" y="12.3">Verzögerung in ms</text></g><g transform="translate(628.79,11)"><text class="bt" y="12.3">löschen falls läuft</text></g><g transform="translate(752.31,11)"><rect rx="4" ry="4" x="-5" y="-0.85" height="17.5" width="14.11" fill="#fff" fill-opacity="0.6"></rect></g></g><g transform="translate(153.22,6)"><path fill="#844966" transform="translate(1,1)" d="m 0,0 H 83.32875 v 26 H 0 V 20 c 0,-10 -8,8 -8,-7.5 s 8,2.5 8,-7.5 z "></path><path fill="#a55b80" d="m 0,0 H 83.32875 v 26 H 0 V 20 c 0,-10 -8,8 -8,-7.5 s 8,2.5 8,-7.5 z "></path><path fill="none" stroke="#c08ca6" stroke-width="1" stroke-linecap="round" d="m 0.5,0.5 H 82.82875 M 82.82875,0.5 M 0.5,25.5 V 18.5 m -7.36,-0.5 q -1.52,-5.5 0,-11 m 7.36,1 V 0.5 H 1 "></path><g><g transform="translate(10,5)"><rect rx="4" ry="4" x="-5" y="-0.85" height="17.5" width="73.33" fill="#fff" fill-opacity="0.6"></rect><text class="et" y="12.85">idVentil</text><text class="ar" font-size="10" transform="translate(57.58,7.9) scale(1.15,0.67)" x="-2.47" y="2.65" fill="#a55b80">▾</text></g></g></g><g transform="translate(370.49,6)"><path fill="#bdccdb" transform="translate(1,1)" d="m 0,0 H 67.688125 v 26 H 0 V 20 c 0,-10 -8,8 -8,-7.5 s 8,2.5 8,-7.5 z "></path><path fill="#bdccdb" d="m 0,0 H 67.688125 v 26 H 0 V 20 c 0,-10 -8,8 -8,-7.5 s 8,2.5 8,-7.5 z "></path><path fill="none" stroke="#8ca6c0" stroke-width="1" stroke-linecap="round" display="none" d="m 0.5,0.5 H 67.188125 M 67.188125,0.5 M 0.5,25.5 V 18.5 m -7.36,-0.5 q -1.52,-5.5 0,-11 m 7.36,1 V 0.5 H 1 "></path><g><g transform="translate(10,5)"><rect rx="4" ry="4" x="-5" y="-0.85" height="17.5" width="57.69" fill="#fff" fill-opacity="0.6"></rect><text class="et" y="12.85">wahr</text><text class="ar" font-size="10" transform="translate(41.94,7.9) scale(1.15,0.67)" x="-2.47" y="2.65" fill="#bdccdb">▾</text></g></g></g><g transform="translate(589.56,6)"><path fill="#bdc2db" transform="translate(1,1)" d="m 0,0 H 28.234375 v 26 H 0 V 20 c 0,-10 -8,8 -8,-7.5 s 8,2.5 8,-7.5 z "></path><path fill="#bdc2db" d="m 0,0 H 28.234375 v 26 H 0 V 20 c 0,-10 -8,8 -8,-7.5 s 8,2.5 8,-7.5 z "></path><path fill="none" stroke="#8c95c0" stroke-width="1" stroke-linecap="round" display="none" d="m 0.5,0.5 H 27.734375 M 27.734375,0.5 M 0.5,25.5 V 18.5 m -7.36,-0.5 q -1.52,-5.5 0,-11 m 7.36,1 V 0.5 H 1 "></path><g><g transform="translate(10,5)"><rect rx="4" ry="4" x="-5" y="-0.85" height="17.5" width="18.23" fill="#fff" fill-opacity="0.6"></rect><text class="et" y="12.85">0</text></g></g></g><g transform="translate(0,38)"><path fill="#7a8449" transform="translate(1,1)" d="m 0,0 H 15 l 6,4 3,0 6,-4 H 269.719375 v 26 H 50 l -6,4 -3,0 -6,-4 h -7 a 8,8 0 0,0 -8,8 v 134.7 a 8,8 0 0,0 8,8 H 269.719375 v 10 H 29.5 l -6,4 -3,0 -6,-4 H 8 a 8,8 0 0,1 -8,-8 z "></path><path fill="#99a55b" d="m 0,0 H 15 l 6,4 3,0 6,-4 H 269.719375 v 26 H 50 l -6,4 -3,0 -6,-4 h -7 a 8,8 0 0,0 -8,8 v 134.7 a 8,8 0 0,0 8,8 H 269.719375 v 10 H 29.5 l -6,4 -3,0 -6,-4 H 8 a 8,8 0 0,1 -8,-8 z "></path><path fill="none" stroke="#b8c08c" stroke-width="1" stroke-linecap="round" d="m 0.5,0.5 H 15 l 6,4 3,0 6,-4 H 269.219375 M 269.219375,0.5 M 269.219375,26.5 M 21.989592359914347,174.71040764008563 a 8.5,8.5 0 0,0 6.0104076400856545,2.4895923599143455 H 269.219375 M 2.6966991411008934,184.00330085889908 A 7.5,7.5 0 0,1 0.5,178.7 V 0.5 "></path><g><g transform="translate(10,5)"><text class="bt" y="12.3" textLength="66.45" lengthAdjust="spacing">Ausführen</text></g><g transform="translate(86.45,5)"><rect rx="4" ry="4" x="-5" y="-0.85" height="17.5" width="58.53" fill="#fff" fill-opacity="0.6"></rect><text class="et" y="12.85">timeout</text></g><g transform="translate(144.98,5)"><text class="bt" y="12.3">in</text></g><g transform="translate(166.52,5)"><rect rx="4" ry="4" x="-5" y="-0.85" height="17.5" width="47.86" fill="#fff" fill-opacity="0.6"></rect><text class="et" y="12.85">dauer</text></g><g transform="translate(224.38,5)"><rect rx="4" ry="4" x="-5" y="-0.85" height="17.5" width="45.34" fill="#fff" fill-opacity="0.6"></rect><text class="et" y="12.85">ms</text><text class="ar" font-size="10" transform="translate(29.59,7.9) scale(1.15,0.67)" x="-2.47" y="2.65" fill="#99a55b">▾</text></g></g><g transform="translate(21,27)"><path fill="#496684" transform="translate(1,1)" d="m 0,8 A 8,8 0 0,1 8,0 H 15 l 6,4 3,0 6,-4 H 40 H 772.9931250000001 v 37 H 29.5 l -6,4 -3,0 -6,-4 H 0 z M 237.55374999999998,5 h -85.32875 v 5 c 0,10 -8,-8 -8,7.5 s 8,-2.5 8,7.5 v 8 h 85.32875 z M 445.758125,5 h -76.26625 v 5 c 0,10 -8,-8 -8,7.5 s 8,-2.5 8,7.5 v 8 h 76.26625 z M 625.3675000000001,5 h -30.234375 v 5 c 0,10 -8,-8 -8,7.5 s 8,-2.5 8,7.5 v 8 h 30.234375 z"></path><path fill="#5b80a5" d="m 0,8 A 8,8 0 0,1 8,0 H 15 l 6,4 3,0 6,-4 H 40 H 772.9931250000001 v 37 H 29.5 l -6,4 -3,0 -6,-4 H 0 z M 237.55374999999998,5 h -85.32875 v 5 c 0,10 -8,-8 -8,7.5 s 8,-2.5 8,7.5 v 8 h 85.32875 z M 445.758125,5 h -76.26625 v 5 c 0,10 -8,-8 -8,7.5 s 8,-2.5 8,7.5 v 8 h 76.26625 z M 625.3675000000001,5 h -30.234375 v 5 c 0,10 -8,-8 -8,7.5 s 8,-2.5 8,7.5 v 8 h 30.234375 z"></path><path fill="none" stroke="#8ca6c0" stroke-width="1" stroke-linecap="round" d="m 0.5,7.5 A 7.5,7.5 0 0,1 8,0.5 H 15 l 6,4 3,0 6,-4 H 39.5 M 39.5,0.5 H 772.4931250000001 M 0.5,36.5 V 8 M 238.05374999999998,5.5 v 28 h -85.32875 M 147.12499999999997,24.3 l 3.68,-2.1 M 446.258125,5.5 v 28 h -76.26625 M 364.39187499999997,24.3 l 3.68,-2.1 M 625.8675000000001,5.5 v 28 h -30.234375 M 590.033125,24.3 l 3.68,-2.1"></path><g><g transform="translate(10,11)"><text class="bt" y="12.3" textLength="55.24" lengthAdjust="spacing">schreibe</text></g><g transform="translate(75.24,11)"><text class="bt" y="12.3" textLength="60.99" lengthAdjust="spacing">Objekt ID</text></g><g transform="translate(247.55,11)"><rect rx="4" ry="4" x="-5" y="-0.85" height="17.5" width="74.97" fill="#fff" fill-opacity="0.6"></rect><text class="et" y="12.85">steuere</text><text class="ar" font-size="10" transform="translate(59.22,7.9) scale(1.15,0.67)" x="-2.47" y="2.65" fill="#5b80a5">▾</text></g><g transform="translate(322.52,11)"><text class="bt" y="12.3">Wert</text></g><g transform="translate(455.76,11)"><text class="bt" y="12.3">Verzögerung in ms</text></g><g transform="translate(635.37,11)"><text class="bt" y="12.3">löschen falls läuft</text></g><g transform="translate(758.88,11)"><rect rx="4" ry="4" x="-5" y="-0.85" height="17.5" width="14.11" fill="#fff" fill-opacity="0.6"></rect></g></g><g transform="translate(153.22,6)"><path fill="#844966" transform="translate(1,1)" d="m 0,0 H 83.32875 v 26 H 0 V 20 c 0,-10 -8,8 -8,-7.5 s 8,2.5 8,-7.5 z "></path><path fill="#a55b80" d="m 0,0 H 83.32875 v 26 H 0 V 20 c 0,-10 -8,8 -8,-7.5 s 8,2.5 8,-7.5 z "></path><path fill="none" stroke="#c08ca6" stroke-width="1" stroke-linecap="round" d="m 0.5,0.5 H 82.82875 M 82.82875,0.5 M 0.5,25.5 V 18.5 m -7.36,-0.5 q -1.52,-5.5 0,-11 m 7.36,1 V 0.5 H 1 "></path><g><g transform="translate(10,5)"><rect rx="4" ry="4" x="-5" y="-0.85" height="17.5" width="73.33" fill="#fff" fill-opacity="0.6"></rect><text class="et" y="12.85">idVentil</text><text class="ar" font-size="10" transform="translate(57.58,7.9) scale(1.15,0.67)" x="-2.47" y="2.65" fill="#a55b80">▾</text></g></g></g><g transform="translate(370.49,6)"><path fill="#bdccdb" transform="translate(1,1)" d="m 0,0 H 74.26625 v 26 H 0 V 20 c 0,-10 -8,8 -8,-7.5 s 8,2.5 8,-7.5 z "></path><path fill="#bdccdb" d="m 0,0 H 74.26625 v 26 H 0 V 20 c 0,-10 -8,8 -8,-7.5 s 8,2.5 8,-7.5 z "></path><path fill="none" stroke="#8ca6c0" stroke-width="1" stroke-linecap="round" display="none" d="m 0.5,0.5 H 73.76625 M 73.76625,0.5 M 0.5,25.5 V 18.5 m -7.36,-0.5 q -1.52,-5.5 0,-11 m 7.36,1 V 0.5 H 1 "></path><g><g transform="translate(10,5)"><rect rx="4" ry="4" x="-5" y="-0.85" height="17.5" width="64.27" fill="#fff" fill-opacity="0.6"></rect><text class="et" y="12.85">falsch</text><text class="ar" font-size="10" transform="translate(48.52,7.9) scale(1.15,0.67)" x="-2.47" y="2.65" fill="#bdccdb">▾</text></g></g></g><g transform="translate(596.13,6)"><path fill="#bdc2db" transform="translate(1,1)" d="m 0,0 H 28.234375 v 26 H 0 V 20 c 0,-10 -8,8 -8,-7.5 s 8,2.5 8,-7.5 z "></path><path fill="#bdc2db" d="m 0,0 H 28.234375 v 26 H 0 V 20 c 0,-10 -8,8 -8,-7.5 s 8,2.5 8,-7.5 z "></path><path fill="none" stroke="#8c95c0" stroke-width="1" stroke-linecap="round" display="none" d="m 0.5,0.5 H 27.734375 M 27.734375,0.5 M 0.5,25.5 V 18.5 m -7.36,-0.5 q -1.52,-5.5 0,-11 m 7.36,1 V 0.5 H 1 "></path><g><g transform="translate(10,5)"><rect rx="4" ry="4" x="-5" y="-0.85" height="17.5" width="18.23" fill="#fff" fill-opacity="0.6"></rect><text class="et" y="12.85">0</text></g></g></g><g transform="translate(0,38)"><path fill="#844966" transform="translate(1,1)" d="m 0,0 H 15 l 6,4 3,0 6,-4 H 149.1725 v 5 c 0,10 -8,-8 -8,7.5 s 8,-2.5 8,7.5 v 6 H 29.5 l -6,4 -3,0 -6,-4 H 0 z "></path><path fill="#a55b80" d="m 0,0 H 15 l 6,4 3,0 6,-4 H 149.1725 v 5 c 0,10 -8,-8 -8,7.5 s 8,-2.5 8,7.5 v 6 H 29.5 l -6,4 -3,0 -6,-4 H 0 z "></path><path fill="none" stroke="#c08ca6" stroke-width="1" stroke-linecap="round" d="m 0.5,0.5 H 15 l 6,4 3,0 6,-4 H 148.6725 M 148.6725,0.5 M 144.1725,19.3 l 3.68,-2.1 M 0.5,25.5 V 0.5 "></path><g><g transform="translate(10,5)"><text class="bt" y="12.3">erhöhe</text></g><g transform="translate(66.08,5)"><rect rx="4" ry="4" x="-5" y="-0.85" height="17.5" width="44.53" fill="#fff" fill-opacity="0.6"></rect><text class="et" y="12.85">idx</text><text class="ar" font-size="10" transform="translate(28.78,7.9) scale(1.15,0.67)" x="-2.47" y="2.65" fill="#a55b80">▾</text></g><g transform="translate(110.61,5)"><text class="bt" y="12.3">um</text></g></g><g transform="translate(150.17,0)"><path fill="#bdc2db" transform="translate(1,1)" d="m 0,0 H 28.234375 v 26 H 0 V 20 c 0,-10 -8,8 -8,-7.5 s 8,2.5 8,-7.5 z "></path><path fill="#bdc2db" d="m 0,0 H 28.234375 v 26 H 0 V 20 c 0,-10 -8,8 -8,-7.5 s 8,2.5 8,-7.5 z "></path><path fill="none" stroke="#8c95c0" stroke-width="1" stroke-linecap="round" display="none" d="m 0.5,0.5 H 27.734375 M 27.734375,0.5 M 0.5,25.5 V 18.5 m -7.36,-0.5 q -1.52,-5.5 0,-11 m 7.36,1 V 0.5 H 1 "></path><g><g transform="translate(10,5)"><rect rx="4" ry="4" x="-5" y="-0.85" height="17.5" width="18.23" fill="#fff" fill-opacity="0.6"></rect><text class="et" y="12.85">1</text></g></g></g><g transform="translate(0,27)"><path fill="#496684" transform="translate(1,1)" d="m 0,0 H 15 l 6,4 3,0 6,-4 H 93.921875 v 5 c 0,10 -8,-8 -8,7.5 s 8,-2.5 8,7.5 v 17 H 93.921875 l -6,4 -3,0 -6,-4 h -7 a 8,8 0 0,0 -8,8 v 16.5 a 8,8 0 0,0 8,8 H 93.921875 v 10 H 29.5 l -6,4 -3,0 -6,-4 H 8 a 8,8 0 0,1 -8,-8 z "></path><path fill="#5b80a5" d="m 0,0 H 15 l 6,4 3,0 6,-4 H 93.921875 v 5 c 0,10 -8,-8 -8,7.5 s 8,-2.5 8,7.5 v 17 H 93.921875 l -6,4 -3,0 -6,-4 h -7 a 8,8 0 0,0 -8,8 v 16.5 a 8,8 0 0,0 8,8 H 93.921875 v 10 H 29.5 l -6,4 -3,0 -6,-4 H 8 a 8,8 0 0,1 -8,-8 z "></path><path fill="none" stroke="#8ca6c0" stroke-width="1" stroke-linecap="round" d="m 0.5,0.5 H 15 l 6,4 3,0 6,-4 H 93.421875 M 93.421875,0.5 M 88.921875,19.3 l 3.68,-2.1 M 93.421875,37.5 M 65.91146735991434,67.51040764008566 a 8.5,8.5 0 0,0 6.0104076400856545,2.4895923599143455 H 93.421875 M 2.6966991411008934,76.8033008588991 A 7.5,7.5 0 0,1 0.5,71.5 V 0.5 "></path><g><g transform="translate(37,5)"><text class="bt" y="12.3">falls</text></g><g transform="translate(10,42)"><text class="bt" y="12.3" textLength="43.92" lengthAdjust="spacing">mache</text></g></g><g transform="translate(10,5)" opacity="0.6"><rect rx="4" ry="4" height="16" width="16" fill="#00f" stroke="#fff" stroke-width="1"></rect><path fill="#fff" d="m4.203,7.296 0,1.368 -0.92,0.677 -0.11,0.41 0.9,1.559 0.41,0.11 1.043,-0.457 1.187,0.683 0.127,1.134 0.3,0.3 1.8,0 0.3,-0.299 0.127,-1.138 1.185,-0.682 1.046,0.458 0.409,-0.11 0.9,-1.559 -0.11,-0.41 -0.92,-0.677 0,-1.366 0.92,-0.677 0.11,-0.41 -0.9,-1.559 -0.409,-0.109 -1.046,0.458 -1.185,-0.682 -0.127,-1.138 -0.3,-0.299 -1.8,0 -0.3,0.3 -0.126,1.135 -1.187,0.682 -1.043,-0.457 -0.41,0.11 -0.899,1.559 0.108,0.409z"></path><circle r="2.7" cx="8" cy="8" fill="#00f" stroke="#fff" stroke-width="1"></circle></g><g transform="translate(94.92,0)"><path fill="#496684" transform="translate(1,1)" d="m 0,0 H 20 H 322.28312500000004 v 37 H 0 V 20 c 0,-10 -8,8 -8,-7.5 s 8,2.5 8,-7.5 z M 72.531875,5 h -56.531875 v 5 c 0,10 -8,-8 -8,7.5 s 8,-2.5 8,7.5 v 8 h 56.531875 z M 312.28312500000004,5 h -190.01625 v 5 c 0,10 -8,-8 -8,7.5 s 8,-2.5 8,7.5 v 8 h 190.01625 z"></path><path fill="#5b80a5" d="m 0,0 H 20 H 322.28312500000004 v 37 H 0 V 20 c 0,-10 -8,8 -8,-7.5 s 8,2.5 8,-7.5 z M 72.531875,5 h -56.531875 v 5 c 0,10 -8,-8 -8,7.5 s 8,-2.5 8,7.5 v 8 h 56.531875 z M 312.28312500000004,5 h -190.01625 v 5 c 0,10 -8,-8 -8,7.5 s 8,-2.5 8,7.5 v 8 h 190.01625 z"></path><path fill="none" stroke="#8ca6c0" stroke-width="1" stroke-linecap="round" d="m 0.5,0.5 H 19.5 M 19.5,0.5 H 321.78312500000004 M 0.5,36.5 V 18.5 m -7.36,-0.5 q -1.52,-5.5 0,-11 m 7.36,1 V 0.5 H 1 M 73.031875,5.5 v 28 h -56.531875 M 10.9,24.3 l 3.68,-2.1 M 312.78312500000004,5.5 v 28 h -190.01625 M 117.16687500000003,24.3 l 3.68,-2.1"></path><g><g transform="translate(82.53,11)"><rect rx="4" ry="4" x="-5" y="-0.85" height="17.5" width="33.74" fill="#fff" fill-opacity="0.6"></rect><text class="et" y="12.85">≤</text><text class="ar" font-size="10" transform="translate(17.99,7.9) scale(1.15,0.67)" x="-2.47" y="2.65" fill="#5b80a5">▾</text></g></g><g transform="translate(17,6)"><path fill="#844966" transform="translate(1,1)" d="m 0,0 H 54.531875 v 26 H 0 V 20 c 0,-10 -8,8 -8,-7.5 s 8,2.5 8,-7.5 z "></path><path fill="#a55b80" d="m 0,0 H 54.531875 v 26 H 0 V 20 c 0,-10 -8,8 -8,-7.5 s 8,2.5 8,-7.5 z "></path><path fill="none" stroke="#c08ca6" stroke-width="1" stroke-linecap="round" d="m 0.5,0.5 H 54.031875 M 54.031875,0.5 M 0.5,25.5 V 18.5 m -7.36,-0.5 q -1.52,-5.5 0,-11 m 7.36,1 V 0.5 H 1 "></path><g><g transform="translate(10,5)"><rect rx="4" ry="4" x="-5" y="-0.85" height="17.5" width="44.53" fill="#fff" fill-opacity="0.6"></rect><text class="et" y="12.85">idx</text><text class="ar" font-size="10" transform="translate(28.78,7.9) scale(1.15,0.67)" x="-2.47" y="2.65" fill="#a55b80">▾</text></g></g></g><g transform="translate(123.27,6)"><path fill="#5d4984" transform="translate(1,1)" d="m 0,0 H 97.125 v 5 c 0,10 -8,-8 -8,7.5 s 8,-2.5 8,7.5 v 6 H 0 V 20 c 0,-10 -8,8 -8,-7.5 s 8,2.5 8,-7.5 z "></path><path fill="#745ba5" d="m 0,0 H 97.125 v 5 c 0,10 -8,-8 -8,7.5 s 8,-2.5 8,7.5 v 6 H 0 V 20 c 0,-10 -8,8 -8,-7.5 s 8,2.5 8,-7.5 z "></path><path fill="none" stroke="#9e8cc0" stroke-width="1" stroke-linecap="round" d="m 0.5,0.5 H 96.625 M 96.625,0.5 M 92.125,19.3 l 3.68,-2.1 M 0.5,25.5 V 18.5 m -7.36,-0.5 q -1.52,-5.5 0,-11 m 7.36,1 V 0.5 H 1 "></path><g><g transform="translate(10,5)"><text class="bt" y="12.3">Länge von</text></g></g><g transform="translate(98.13,0)"><path fill="#844966" transform="translate(1,1)" d="m 0,0 H 89.89125 v 26 H 0 V 20 c 0,-10 -8,8 -8,-7.5 s 8,2.5 8,-7.5 z "></path><path fill="#a55b80" d="m 0,0 H 89.89125 v 26 H 0 V 20 c 0,-10 -8,8 -8,-7.5 s 8,2.5 8,-7.5 z "></path><path fill="none" stroke="#c08ca6" stroke-width="1" stroke-linecap="round" d="m 0.5,0.5 H 89.39125 M 89.39125,0.5 M 0.5,25.5 V 18.5 m -7.36,-0.5 q -1.52,-5.5 0,-11 m 7.36,1 V 0.5 H 1 "></path><g><g transform="translate(10,5)"><rect rx="4" ry="4" x="-5" y="-0.85" height="17.5" width="79.89" fill="#fff" fill-opacity="0.6"></rect><text class="et" y="12.85">Ventillist</text><text class="ar" font-size="10" transform="translate(64.14,7.9) scale(1.15,0.67)" x="-2.47" y="2.65" fill="#a55b80">▾</text></g></g></g></g></g><g transform="translate(64.92,38)"><path fill="#7a4984" transform="translate(1,1)" d="m 0,8 A 8,8 0 0,1 8,0 H 15 l 6,4 3,0 6,-4 H 62.78125 v 26 H 29.5 l -6,4 -3,0 -6,-4 H 8 a 8,8 0 0,1 -8,-8 z "></path><path fill="#995ba5" d="m 0,8 A 8,8 0 0,1 8,0 H 15 l 6,4 3,0 6,-4 H 62.78125 v 26 H 29.5 l -6,4 -3,0 -6,-4 H 8 a 8,8 0 0,1 -8,-8 z "></path><path fill="none" stroke="#b88cc0" stroke-width="1" stroke-linecap="round" d="m 0.5,7.5 A 7.5,7.5 0 0,1 8,0.5 H 15 l 6,4 3,0 6,-4 H 62.28125 M 62.28125,0.5 M 2.6966991411008934,23.303300858899107 A 7.5,7.5 0 0,1 0.5,18 V 8 "></path><g><g transform="translate(10,5)"><text class="bt" y="12.3">ventile</text></g></g></g></g></g></g></g></g></g></g><g transform="translate(64.92,414.2)"><path fill="#844966" transform="translate(1,1)" d="m 0,8 A 8,8 0 0,1 8,0 H 15 l 6,4 3,0 6,-4 H 149.1725 v 5 c 0,10 -8,-8 -8,7.5 s 8,-2.5 8,7.5 v 6 H 29.5 l -6,4 -3,0 -6,-4 H 0 z "></path><path fill="#a55b80" d="m 0,8 A 8,8 0 0,1 8,0 H 15 l 6,4 3,0 6,-4 H 149.1725 v 5 c 0,10 -8,-8 -8,7.5 s 8,-2.5 8,7.5 v 6 H 29.5 l -6,4 -3,0 -6,-4 H 0 z "></path><path fill="none" stroke="#c08ca6" stroke-width="1" stroke-linecap="round" d="m 0.5,7.5 A 7.5,7.5 0 0,1 8,0.5 H 15 l 6,4 3,0 6,-4 H 148.6725 M 148.6725,0.5 M 144.1725,19.3 l 3.68,-2.1 M 0.5,25.5 V 8 "></path><g><g transform="translate(10,5)"><text class="bt" y="12.3">erhöhe</text></g><g transform="translate(66.08,5)"><rect rx="4" ry="4" x="-5" y="-0.85" height="17.5" width="44.53" fill="#fff" fill-opacity="0.6"></rect><text class="et" y="12.85">idx</text><text class="ar" font-size="10" transform="translate(28.78,7.9) scale(1.15,0.67)" x="-2.47" y="2.65" fill="#a55b80">▾</text></g><g transform="translate(110.61,5)"><text class="bt" y="12.3">um</text></g></g><g transform="translate(150.17,0)"><path fill="#bdc2db" transform="translate(1,1)" d="m 0,0 H 28.234375 v 26 H 0 V 20 c 0,-10 -8,8 -8,-7.5 s 8,2.5 8,-7.5 z "></path><path fill="#bdc2db" d="m 0,0 H 28.234375 v 26 H 0 V 20 c 0,-10 -8,8 -8,-7.5 s 8,2.5 8,-7.5 z "></path><path fill="none" stroke="#8c95c0" stroke-width="1" stroke-linecap="round" display="none" d="m 0.5,0.5 H 27.734375 M 27.734375,0.5 M 0.5,25.5 V 18.5 m -7.36,-0.5 q -1.52,-5.5 0,-11 m 7.36,1 V 0.5 H 1 "></path><g><g transform="translate(10,5)"><rect rx="4" ry="4" x="-5" y="-0.85" height="17.5" width="18.23" fill="#fff" fill-opacity="0.6"></rect><text class="et" y="12.85">1</text></g></g></g><g transform="translate(0,27)"><path fill="#496684" transform="translate(1,1)" d="m 0,0 H 15 l 6,4 3,0 6,-4 H 93.921875 v 5 c 0,10 -8,-8 -8,7.5 s 8,-2.5 8,7.5 v 17 H 93.921875 l -6,4 -3,0 -6,-4 h -7 a 8,8 0 0,0 -8,8 v 16.5 a 8,8 0 0,0 8,8 H 93.921875 v 10 H 29.5 l -6,4 -3,0 -6,-4 H 8 a 8,8 0 0,1 -8,-8 z "></path><path fill="#5b80a5" d="m 0,0 H 15 l 6,4 3,0 6,-4 H 93.921875 v 5 c 0,10 -8,-8 -8,7.5 s 8,-2.5 8,7.5 v 17 H 93.921875 l -6,4 -3,0 -6,-4 h -7 a 8,8 0 0,0 -8,8 v 16.5 a 8,8 0 0,0 8,8 H 93.921875 v 10 H 29.5 l -6,4 -3,0 -6,-4 H 8 a 8,8 0 0,1 -8,-8 z "></path><path fill="none" stroke="#8ca6c0" stroke-width="1" stroke-linecap="round" d="m 0.5,0.5 H 15 l 6,4 3,0 6,-4 H 93.421875 M 93.421875,0.5 M 88.921875,19.3 l 3.68,-2.1 M 93.421875,37.5 M 65.91146735991434,67.51040764008566 a 8.5,8.5 0 0,0 6.0104076400856545,2.4895923599143455 H 93.421875 M 2.6966991411008934,76.8033008588991 A 7.5,7.5 0 0,1 0.5,71.5 V 0.5 "></path><g><g transform="translate(37,5)"><text class="bt" y="12.3">falls</text></g><g transform="translate(10,42)"><text class="bt" y="12.3" textLength="43.92" lengthAdjust="spacing">mache</text></g></g><g transform="translate(10,5)" opacity="0.6"><rect rx="4" ry="4" height="16" width="16" fill="#00f" stroke="#fff" stroke-width="1"></rect><path fill="#fff" d="m4.203,7.296 0,1.368 -0.92,0.677 -0.11,0.41 0.9,1.559 0.41,0.11 1.043,-0.457 1.187,0.683 0.127,1.134 0.3,0.3 1.8,0 0.3,-0.299 0.127,-1.138 1.185,-0.682 1.046,0.458 0.409,-0.11 0.9,-1.559 -0.11,-0.41 -0.92,-0.677 0,-1.366 0.92,-0.677 0.11,-0.41 -0.9,-1.559 -0.409,-0.109 -1.046,0.458 -1.185,-0.682 -0.127,-1.138 -0.3,-0.299 -1.8,0 -0.3,0.3 -0.126,1.135 -1.187,0.682 -1.043,-0.457 -0.41,0.11 -0.899,1.559 0.108,0.409z"></path><circle r="2.7" cx="8" cy="8" fill="#00f" stroke="#fff" stroke-width="1"></circle></g><g transform="translate(94.92,0)"><path fill="#496684" transform="translate(1,1)" d="m 0,0 H 20 H 322.28312500000004 v 37 H 0 V 20 c 0,-10 -8,8 -8,-7.5 s 8,2.5 8,-7.5 z M 72.531875,5 h -56.531875 v 5 c 0,10 -8,-8 -8,7.5 s 8,-2.5 8,7.5 v 8 h 56.531875 z M 312.28312500000004,5 h -190.01625 v 5 c 0,10 -8,-8 -8,7.5 s 8,-2.5 8,7.5 v 8 h 190.01625 z"></path><path fill="#5b80a5" d="m 0,0 H 20 H 322.28312500000004 v 37 H 0 V 20 c 0,-10 -8,8 -8,-7.5 s 8,2.5 8,-7.5 z M 72.531875,5 h -56.531875 v 5 c 0,10 -8,-8 -8,7.5 s 8,-2.5 8,7.5 v 8 h 56.531875 z M 312.28312500000004,5 h -190.01625 v 5 c 0,10 -8,-8 -8,7.5 s 8,-2.5 8,7.5 v 8 h 190.01625 z"></path><path fill="none" stroke="#8ca6c0" stroke-width="1" stroke-linecap="round" d="m 0.5,0.5 H 19.5 M 19.5,0.5 H 321.78312500000004 M 0.5,36.5 V 18.5 m -7.36,-0.5 q -1.52,-5.5 0,-11 m 7.36,1 V 0.5 H 1 M 73.031875,5.5 v 28 h -56.531875 M 10.9,24.3 l 3.68,-2.1 M 312.78312500000004,5.5 v 28 h -190.01625 M 117.16687500000003,24.3 l 3.68,-2.1"></path><g><g transform="translate(82.53,11)"><rect rx="4" ry="4" x="-5" y="-0.85" height="17.5" width="33.74" fill="#fff" fill-opacity="0.6"></rect><text class="et" y="12.85">≤</text><text class="ar" font-size="10" transform="translate(17.99,7.9) scale(1.15,0.67)" x="-2.47" y="2.65" fill="#5b80a5">▾</text></g></g><g transform="translate(17,6)"><path fill="#844966" transform="translate(1,1)" d="m 0,0 H 54.531875 v 26 H 0 V 20 c 0,-10 -8,8 -8,-7.5 s 8,2.5 8,-7.5 z "></path><path fill="#a55b80" d="m 0,0 H 54.531875 v 26 H 0 V 20 c 0,-10 -8,8 -8,-7.5 s 8,2.5 8,-7.5 z "></path><path fill="none" stroke="#c08ca6" stroke-width="1" stroke-linecap="round" d="m 0.5,0.5 H 54.031875 M 54.031875,0.5 M 0.5,25.5 V 18.5 m -7.36,-0.5 q -1.52,-5.5 0,-11 m 7.36,1 V 0.5 H 1 "></path><g><g transform="translate(10,5)"><rect rx="4" ry="4" x="-5" y="-0.85" height="17.5" width="44.53" fill="#fff" fill-opacity="0.6"></rect><text class="et" y="12.85">idx</text><text class="ar" font-size="10" transform="translate(28.78,7.9) scale(1.15,0.67)" x="-2.47" y="2.65" fill="#a55b80">▾</text></g></g></g><g transform="translate(123.27,6)"><path fill="#5d4984" transform="translate(1,1)" d="m 0,0 H 97.125 v 5 c 0,10 -8,-8 -8,7.5 s 8,-2.5 8,7.5 v 6 H 0 V 20 c 0,-10 -8,8 -8,-7.5 s 8,2.5 8,-7.5 z "></path><path fill="#745ba5" d="m 0,0 H 97.125 v 5 c 0,10 -8,-8 -8,7.5 s 8,-2.5 8,7.5 v 6 H 0 V 20 c 0,-10 -8,8 -8,-7.5 s 8,2.5 8,-7.5 z "></path><path fill="none" stroke="#9e8cc0" stroke-width="1" stroke-linecap="round" d="m 0.5,0.5 H 96.625 M 96.625,0.5 M 92.125,19.3 l 3.68,-2.1 M 0.5,25.5 V 18.5 m -7.36,-0.5 q -1.52,-5.5 0,-11 m 7.36,1 V 0.5 H 1 "></path><g><g transform="translate(10,5)"><text class="bt" y="12.3">Länge von</text></g></g><g transform="translate(98.13,0)"><path fill="#844966" transform="translate(1,1)" d="m 0,0 H 89.89125 v 26 H 0 V 20 c 0,-10 -8,8 -8,-7.5 s 8,2.5 8,-7.5 z "></path><path fill="#a55b80" d="m 0,0 H 89.89125 v 26 H 0 V 20 c 0,-10 -8,8 -8,-7.5 s 8,2.5 8,-7.5 z "></path><path fill="none" stroke="#c08ca6" stroke-width="1" stroke-linecap="round" d="m 0.5,0.5 H 89.39125 M 89.39125,0.5 M 0.5,25.5 V 18.5 m -7.36,-0.5 q -1.52,-5.5 0,-11 m 7.36,1 V 0.5 H 1 "></path><g><g transform="translate(10,5)"><rect rx="4" ry="4" x="-5" y="-0.85" height="17.5" width="79.89" fill="#fff" fill-opacity="0.6"></rect><text class="et" y="12.85">Ventillist</text><text class="ar" font-size="10" transform="translate(64.14,7.9) scale(1.15,0.67)" x="-2.47" y="2.65" fill="#a55b80">▾</text></g></g></g></g></g><g transform="translate(64.92,38)"><path fill="#7a4984" transform="translate(1,1)" d="m 0,8 A 8,8 0 0,1 8,0 H 15 l 6,4 3,0 6,-4 H 62.78125 v 26 H 29.5 l -6,4 -3,0 -6,-4 H 8 a 8,8 0 0,1 -8,-8 z "></path><path fill="#995ba5" d="m 0,8 A 8,8 0 0,1 8,0 H 15 l 6,4 3,0 6,-4 H 62.78125 v 26 H 29.5 l -6,4 -3,0 -6,-4 H 8 a 8,8 0 0,1 -8,-8 z "></path><path fill="none" stroke="#b88cc0" stroke-width="1" stroke-linecap="round" d="m 0.5,7.5 A 7.5,7.5 0 0,1 8,0.5 H 15 l 6,4 3,0 6,-4 H 62.28125 M 62.28125,0.5 M 2.6966991411008934,23.303300858899107 A 7.5,7.5 0 0,1 0.5,18 V 8 "></path><g><g transform="translate(10,5)"><text class="bt" y="12.3">ventile</text></g></g></g></g></g></g></g></g></g></svg>
</body></html>
